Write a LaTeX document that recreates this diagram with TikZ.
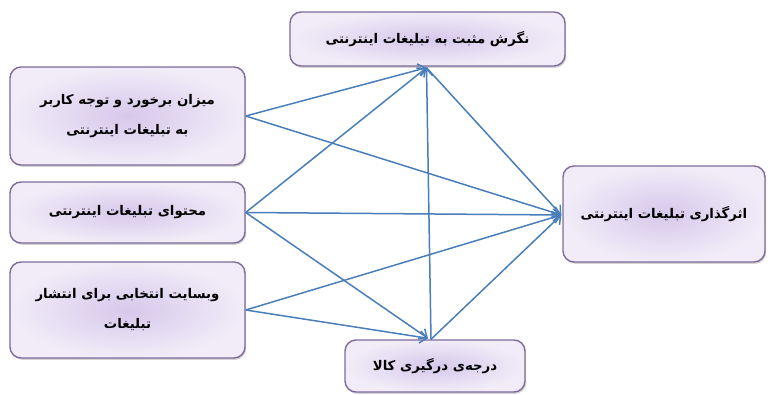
\documentclass[tikz,border=0pt]{standalone}
\usepackage{fontspec}
\TeXXeTstate=1
\newfontfamily\arabicfont[Script=Arabic]{DejaVu Sans}
\usetikzlibrary{arrows.meta,shadows}
\definecolor{boxline}{HTML}{7E6A9C}
\definecolor{boxin}{HTML}{D6C8EB}
\definecolor{boxout}{HTML}{F1ECF8}
\definecolor{arrowblue}{HTML}{4A7EBB}
\tikzset{
  fbox/.style={draw=boxline, line width=1.4pt, rounded corners=11pt,
    inner color=boxin, outer color=boxout,
    drop shadow={opacity=0.35, shadow xshift=1.2pt, shadow yshift=-1.8pt},
    align=center, font=\arabicfont\bfseries\fontsize{13.3}{30}\selectfont},
  conn/.style={draw=arrowblue, line width=1.5pt,
    -{Straight Barb[length=7pt,width=12pt,line width=1.5pt]}}
}
\begin{document}
\begin{tikzpicture}[x=1pt,y=-1pt]
\useasboundingbox (0,0) rectangle (773,395);
\node[fbox, minimum width=235pt, minimum height=98pt] (l1) at (127.5,116)
  {\beginR میزان برخورد و توجه کاربر\endR\\\beginR به تبلیغات اینترنتی\endR};
\node[fbox, minimum width=235pt, minimum height=61pt] (l2) at (127.5,212.5)
  {\beginR محتوای تبلیغات اینترنتی\endR};
\node[fbox, minimum width=235pt, minimum height=96pt] (l3) at (127.5,310)
  {\beginR وبسایت انتخابی برای انتشار\endR\\\beginR تبلیغات\endR};
\node[fbox, minimum width=275pt, minimum height=54pt] (top) at (427.5,39)
  {\beginR نگرش مثبت به تبلیغات اینترنتی\endR};
\node[fbox, minimum width=180pt, minimum height=52pt] (bot) at (435,366)
  {\beginR درجه‌ی درگیری کالا\endR};
\node[fbox, minimum width=202pt, minimum height=96pt] (res) at (664,214)
  {\beginR اثرگذاری تبلیغات اینترنتی\endR};
\coordinate (tin) at ([xshift=-1pt,yshift=-1pt]top.south);
\coordinate (bin) at ([xshift=-7pt,yshift=1pt]bot.north);
\coordinate (bout) at ([xshift=-4pt]bot.north);
\coordinate (rin) at ([xshift=-1pt,yshift=-1pt]res.west);
\draw[conn] (l1.east) -- (tin);
\draw[conn] (l1.east) -- (rin);
\draw[conn] (l2.east) -- (tin);
\draw[conn] (l2.east) -- (rin);
\draw[conn] (l2.east) -- (bin);
\draw[conn] (l3.east) -- (rin);
\draw[conn] (l3.east) -- (bin);
\draw[conn] (bout) -- (tin);
\draw[conn] (tin) -- (rin);
\draw[conn] (bout) -- (rin);
\end{tikzpicture}
\end{document}
